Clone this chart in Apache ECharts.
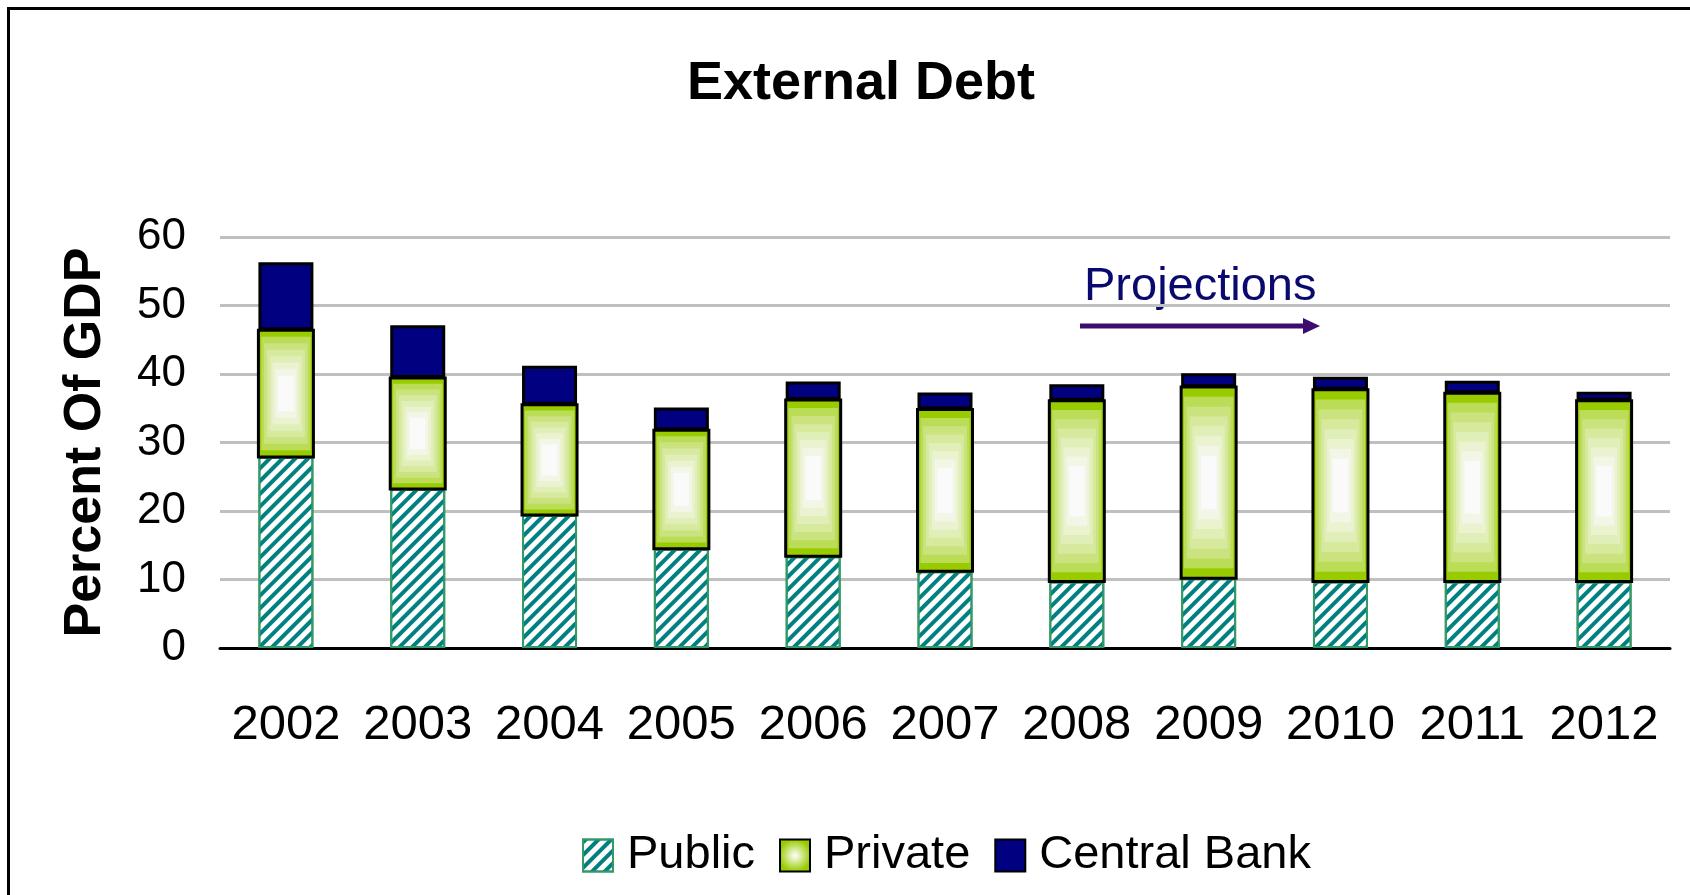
<!DOCTYPE html>
<html>
<head>
<meta charset="utf-8">
<title>External Debt</title>
<script src="https://cdn.jsdelivr.net/npm/echarts@6/dist/echarts.min.js"></script>
<style>
  html, body { margin: 0; padding: 0; background: #fff; }
  #chart { width: 1690px; height: 895px; }
</style>
</head>
<body>
<div id="chart"></div>
<script>
// data (percent of GDP)
var years = ['2002', '2003', '2004', '2005', '2006', '2007', '2008', '2009', '2010', '2011', '2012'];
var publicDebt  = [27.9, 23.2, 19.4, 14.5, 13.4, 11.2, 9.7, 10.2, 9.7, 9.7, 9.7];
var privateDebt = [18.5, 16.2, 16.1, 17.3, 22.8, 23.6, 26.4, 27.9, 28.0, 27.5, 26.4];
var centralBank = [9.9, 7.7, 5.7, 3.3, 2.7, 2.5, 2.4, 2.0, 1.9, 1.8, 1.3];
var yTicks = [0, 10, 20, 30, 40, 50, 60];

var FONT = '"Liberation Sans", Arial, sans-serif';
var BAR_W = 55;

// 私人部分的“从中心渐变”效果：用一圈圈的矩形拼出来
var GREEN = [153, 204, 0];
function ringColor(t) {
  // t: 0 = edge, 1 = centre
  var k = Math.pow(t, 0.55);
  var c = GREEN.map(function (v) { return Math.round(v + (250 - v) * k); });
  return 'rgb(' + c.join(',') + ')';
}

// [index, bottom, top] for the custom overlay
var privateBoxes = years.map(function (y, i) {
  return [i, publicDebt[i], publicDebt[i] + privateDebt[i]];
});

function renderPrivate(params, api) {
  var lo = api.coord([api.value(0), api.value(1)]);
  var hi = api.coord([api.value(0), api.value(2)]);
  var x = lo[0] - BAR_W / 2, y = hi[1], w = BAR_W, h = lo[1] - hi[1];
  var rings = 8, children = [];
  for (var k = 0; k < rings; k++) {
    var f = (k / (rings - 1)) * 0.36;
    children.push({
      type: 'rect',
      shape: { x: x + f * w, y: y + f * h, width: w * (1 - 2 * f), height: h * (1 - 2 * f) },
      style: { fill: ringColor(k / (rings - 1)) }
    });
  }
  children.push({
    type: 'rect',
    shape: { x: x, y: y, width: w, height: h },
    style: { fill: null, stroke: '#000', lineWidth: 3 }
  });
  return { type: 'group', children: children };
}

var chart = echarts.init(document.getElementById('chart'));

var option = {
  backgroundColor: '#fff',
  animation: false,
  title: {
    text: 'External Debt',
    left: 856,
    top: 52,
    textAlign: 'center',
    textStyle: { fontFamily: FONT, fontSize: 54, fontWeight: 'bold', color: '#000' }
  },
  legend: {
    data: ['Public', 'Private', 'Central Bank'],
    left: 577,
    top: 827,
    icon: 'rect',
    itemWidth: 30,
    itemHeight: 32,
    itemGap: 24,
    textStyle: { fontFamily: FONT, fontSize: 47, color: '#000', padding: [0, 0, 0, 9] }
  },
  grid: { left: 220, right: 20, top: 237, bottom: 247 },
  xAxis: {
    type: 'category',
    data: years,
    axisLine: { lineStyle: { color: '#000', width: 3 } },
    axisTick: { length: 15, lineStyle: { color: '#000', width: 3 } },
    axisLabel: { interval: 0, fontFamily: FONT, fontSize: 49, color: '#000', margin: 53 }
  },
  yAxis: {
    type: 'value',
    min: yTicks[0],
    max: yTicks[yTicks.length - 1],
    interval: 10,
    name: 'Percent Of GDP',
    nameLocation: 'middle',
    nameGap: 108,
    nameTextStyle: { fontFamily: FONT, fontSize: 52, fontWeight: 'bold', color: '#000' },
    axisLine: { show: false },
    axisTick: { show: false },
    axisLabel: { fontFamily: FONT, fontSize: 44, color: '#000', margin: 34 },
    splitLine: { lineStyle: { color: '#c0c0c0', width: 3 } }
  },
  series: [
    {
      name: 'Public',
      type: 'bar',
      stack: 'debt',
      barWidth: BAR_W,
      data: publicDebt,
      itemStyle: {
        color: '#fff',
        borderColor: '#339966',
        borderWidth: 2,
        decal: {
          symbol: 'rect',
          symbolSize: 1,
          dashArrayX: [1, 0],
          dashArrayY: [4, 4.5],
          rotation: -Math.PI / 4,
          color: '#008080'
        }
      }
    },
    {
      name: 'Private',
      type: 'bar',
      stack: 'debt',
      barWidth: BAR_W,
      data: privateDebt,
      itemStyle: {
        color: {
          type: 'radial', x: 0.5, y: 0.5, r: 0.5,
          colorStops: [{ offset: 0, color: '#ffffff' }, { offset: 1, color: '#99cc00' }]
        },
        borderColor: '#000',
        borderWidth: 3
      }
    },
    {
      name: 'Central Bank',
      type: 'bar',
      stack: 'debt',
      barWidth: BAR_W,
      data: centralBank,
      itemStyle: { color: '#000080', borderColor: '#000', borderWidth: 3 }
    },
    {
      // 覆盖在 Private 柱子上面画渐变
      type: 'custom',
      silent: true,
      z: 3,
      renderItem: renderPrivate,
      encode: { x: 0, y: [1, 2] },
      data: privateBoxes
    }
  ],
  graphic: [
    {
      type: 'rect',
      shape: { x: 8.5, y: 8.5, width: 1700, height: 900 },
      style: { fill: null, stroke: '#000', lineWidth: 3 },
      silent: true
    },
    {
      type: 'text',
      x: 1084,
      y: 264,
      style: { text: 'Projections', font: '47px ' + FONT, fill: '#0a0a6e', verticalAlign: 'top' },
      silent: true
    },
    {
      type: 'line',
      shape: { x1: 1080, y1: 326, x2: 1306, y2: 326 },
      style: { stroke: '#3d0c6e', lineWidth: 5 },
      silent: true
    },
    {
      type: 'polygon',
      shape: { points: [[1303, 318], [1320, 326], [1303, 334]] },
      style: { fill: '#3d0c6e' },
      silent: true
    }
  ]
};

chart.setOption(option);
</script>
</body>
</html>
